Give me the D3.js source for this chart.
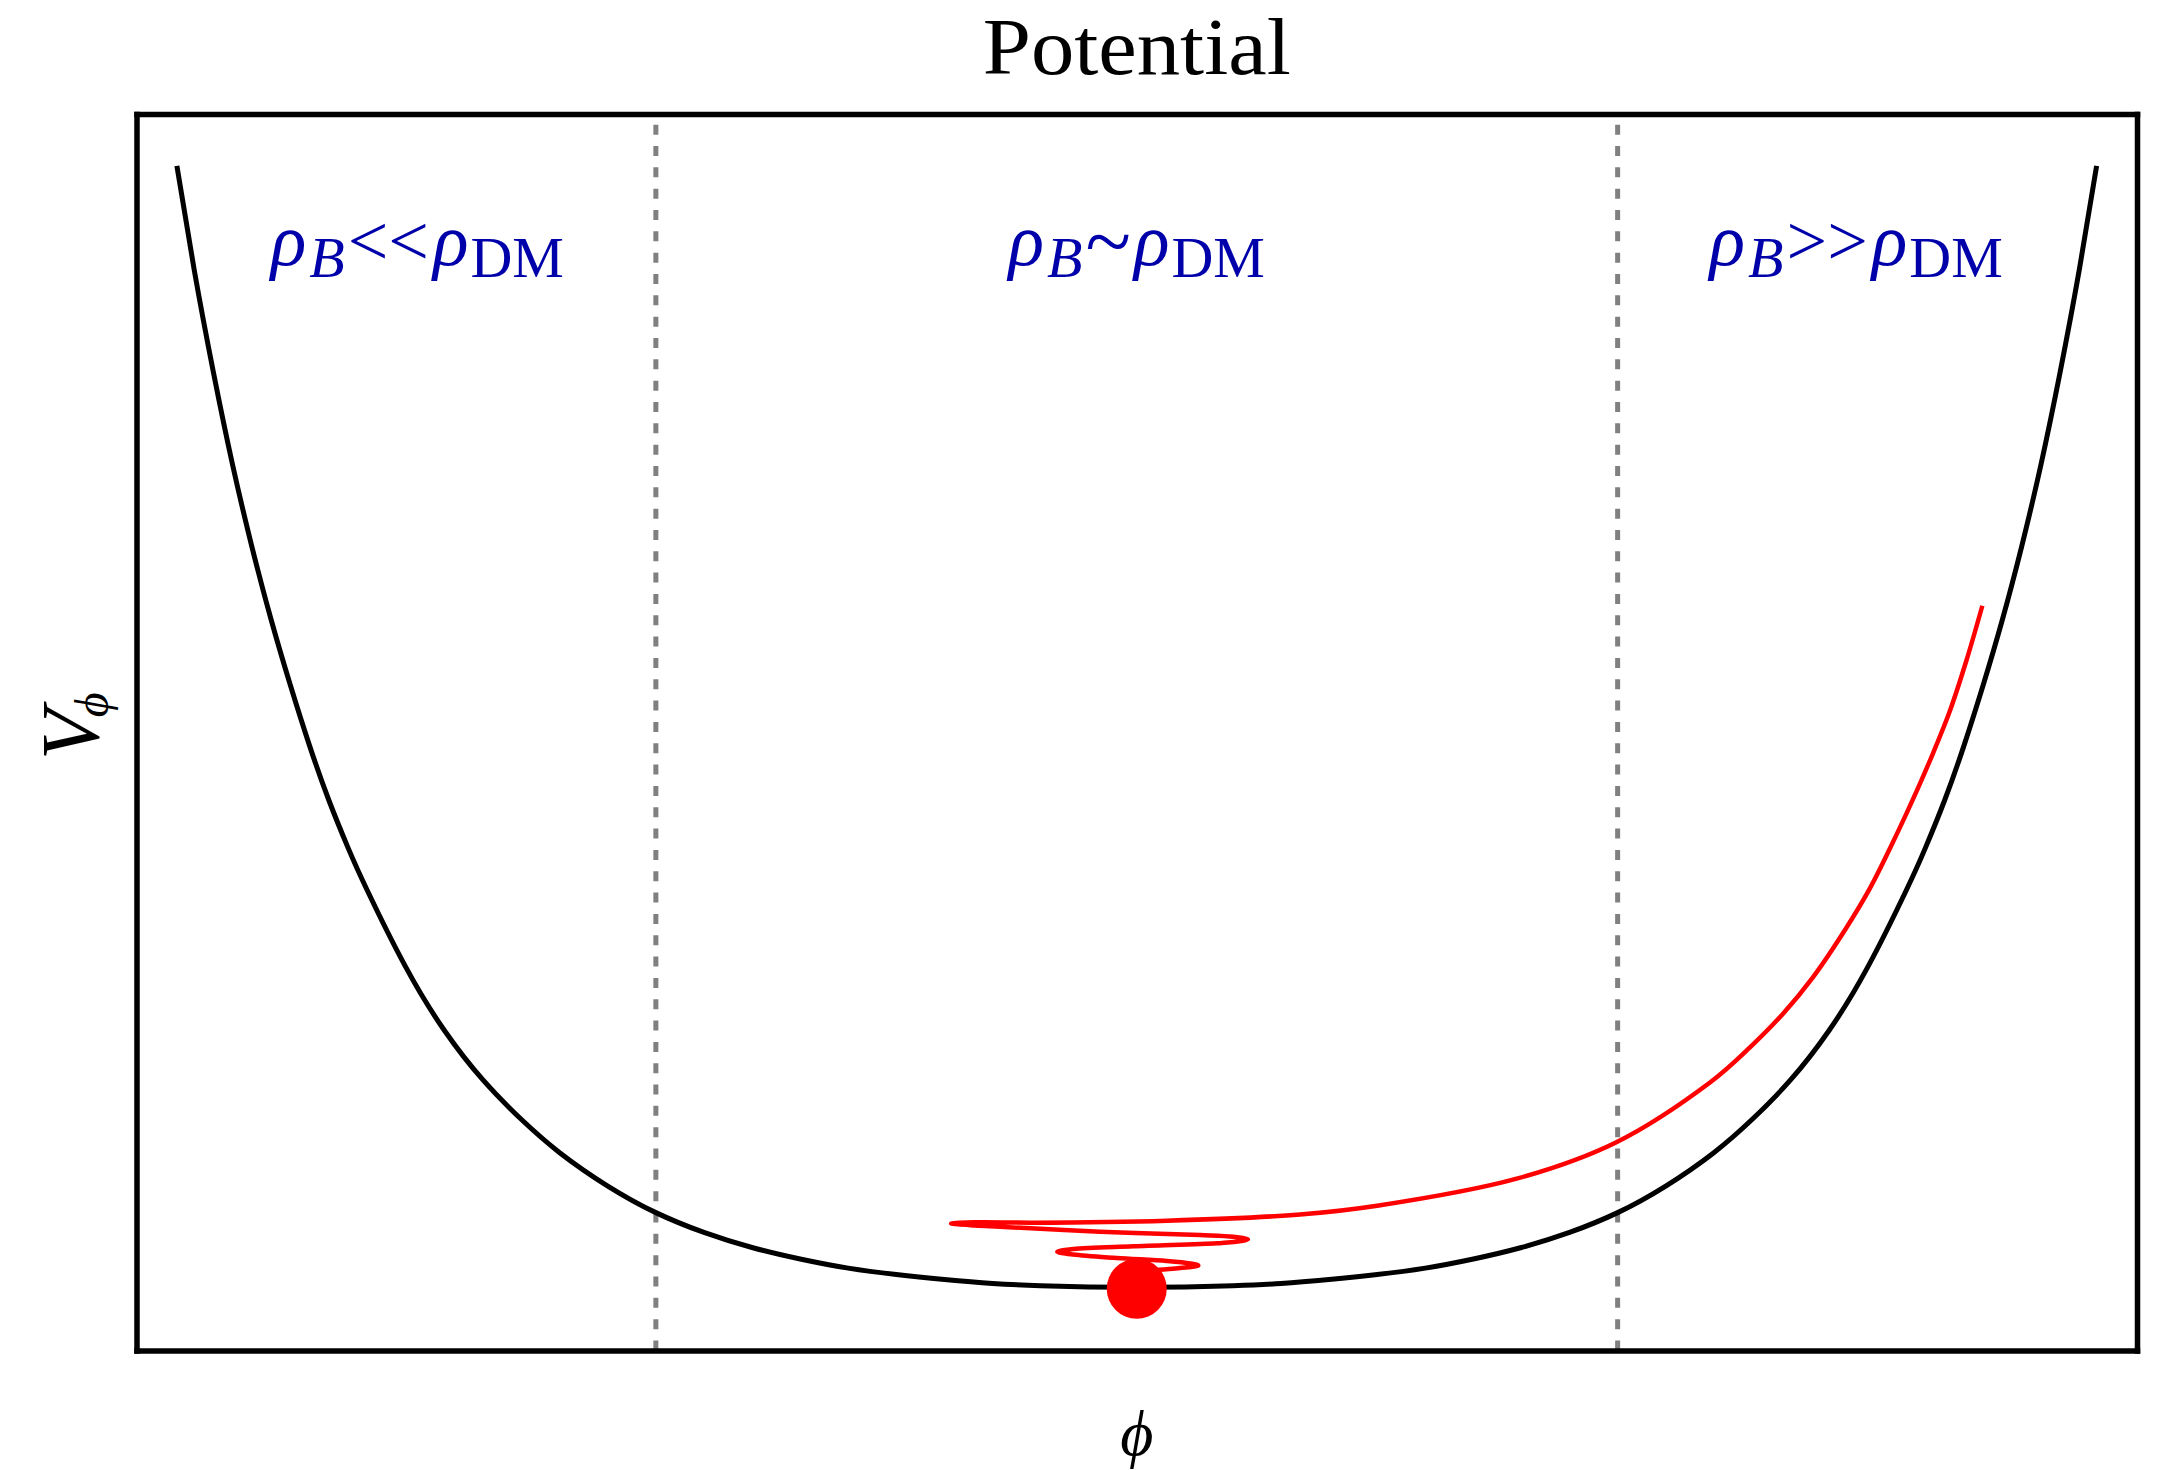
<!DOCTYPE html>
<html>
<head>
<meta charset="utf-8">
<script src="https://cdn.jsdelivr.net/npm/d3@7"></script>
<style>
  body { margin: 0; background: #ffffff; }
  svg { display: block; }
</style>
</head>
<body>
<svg id="chart" width="2162" height="1470"></svg>
<script>
// Scalar-field potential V(phi), sampled along the curve
const potentialPhi = [-4.99, -4.9, -4.8, -4.7, -4.6, -4.5, -4.4, -4.3, -4.2, -4.1, -4.0, -3.8, -3.6, -3.4, -3.2, -3.0,
                      -2.75, -2.5, -2.25, -2.0, -1.75, -1.5, -1.25, -1.0, -0.75, -0.5, -0.25, 0.0,
                      0.25, 0.5, 0.75, 1.0, 1.25, 1.5, 1.75, 2.0, 2.25, 2.5, 2.75,
                      3.0, 3.2, 3.4, 3.6, 3.8, 4.0, 4.1, 4.2, 4.3, 4.4, 4.5, 4.6, 4.7, 4.8, 4.9, 4.99];
const potentialV   = [9.58, 8.74, 7.91, 7.16, 6.50, 5.91, 5.38, 4.89, 4.45, 4.065, 3.72, 3.10, 2.59, 2.19, 1.87, 1.60,
                      1.33, 1.115, 0.955, 0.833, 0.740, 0.666, 0.614, 0.574, 0.542, 0.524, 0.514, 0.511,
                      0.514, 0.524, 0.542, 0.574, 0.614, 0.666, 0.740, 0.833, 0.955, 1.115, 1.33,
                      1.60, 1.87, 2.19, 2.59, 3.10, 3.72, 4.065, 4.45, 4.89, 5.38, 5.91, 6.50, 7.16, 7.91, 8.74, 9.58];

// Field trajectory rolling down and oscillating around the minimum (in time order)
const pathPhi = [4.396, 4.314, 4.228, 4.140, 4.055, 3.950, 3.812, 3.690, 3.517, 3.361, 3.188, 2.980, 2.491, 1.975, 1.258, 0.849,
                 0.156, -0.539, -0.840, -0.965, -0.840, -0.711, -0.191, 0.329, 0.502, 0.578, 0.502, 0.416, -0.018, -0.330,
                 -0.413, -0.330, -0.104, 0.156, 0.277, 0.320, 0.225, 0.086, 0.007];
const pathV   = [6.023, 5.584, 5.176, 4.832, 4.526, 4.172, 3.739, 3.421, 3.022, 2.726, 2.452, 2.168, 1.683, 1.390, 1.173, 1.100,
                 1.050, 1.034, 1.037, 1.027, 1.011, 1.001, 0.961, 0.934, 0.920, 0.899, 0.877, 0.867, 0.843, 0.821,
                 0.799, 0.776, 0.748, 0.724, 0.704, 0.687, 0.667, 0.647, 0.619];

// Field at rest in the minimum
const restPhi = 0.0;
const restV = 0.50;

// Region boundaries and region labels
const regionEdges = [-2.5, 2.5];
const regionLabelPhi = [-3.74, 0.0, 3.74];
const regionLabelV = 8.78;
const regionRelation = ["<<", "~", ">>"];

const titleText = "Potential";
const xLabelText = "\u03D5";
const yLabelMain = "V";
const yLabelSub = "\u03D5";

// ---------------------------------------------------------------
const svg = d3.select("#chart");
const frame = { left: 136.5, right: 2137, top: 114, bottom: 1350.5 };

const x = d3.scaleLinear().domain([-5.2, 5.2]).range([frame.left, frame.right]);
const y = d3.scaleLinear().domain([0, 10]).range([frame.bottom, frame.top]);

svg.append("rect").attr("width", 2162).attr("height", 1470).attr("fill", "#ffffff");

const serif = "'Liberation Serif', 'Times New Roman', serif";

// dashed region boundaries (drawn bottom to top)
svg.append("g").selectAll("line")
  .data(regionEdges)
  .join("line")
  .attr("x1", d => x(d)).attr("x2", d => x(d))
  .attr("y1", y(0)).attr("y2", y(10))
  .attr("stroke", "#808080")
  .attr("stroke-width", 5)
  .attr("stroke-dasharray", "10 11.33");

// potential curve
const potential = potentialPhi.map((p, i) => [p, potentialV[i]]);
const smoothLine = d3.line().x(d => x(d[0])).y(d => y(d[1])).curve(d3.curveNatural);

svg.append("path")
  .datum(potential)
  .attr("d", smoothLine)
  .attr("fill", "none")
  .attr("stroke", "#000000")
  .attr("stroke-width", 5)
  .attr("stroke-linejoin", "round");

// trajectory
const path = pathPhi.map((p, i) => [p, pathV[i]]);
const pathLine = d3.line().x(d => x(d[0])).y(d => y(d[1])).curve(d3.curveCatmullRom.alpha(0.5));
svg.append("path")
  .datum(path)
  .attr("d", pathLine)
  .attr("fill", "none")
  .attr("stroke", "#ff0000")
  .attr("stroke-width", 4.5)
  .attr("stroke-linejoin", "round")
  .attr("stroke-linecap", "butt");

// ball at the minimum
svg.append("circle")
  .attr("cx", x(restPhi))
  .attr("cy", y(restV))
  .attr("r", 30)
  .attr("fill", "#ff0000");

// frame made of four bare axes
const axes = [
  { gen: d3.axisBottom(x), t: `translate(0,${frame.bottom})` },
  { gen: d3.axisTop(x),    t: `translate(0,${frame.top})` },
  { gen: d3.axisLeft(y),   t: `translate(${frame.left},0)` },
  { gen: d3.axisRight(y),  t: `translate(${frame.right},0)` }
];
axes.forEach(a => {
  const g = svg.append("g").attr("transform", a.t)
    .call(a.gen.tickValues([]).tickSizeOuter(0));
  g.select(".domain")
    .attr("stroke", "#000000")
    .attr("stroke-width", 5.5)
    .attr("stroke-linecap", "square");
});

// region labels: rho_B <relation> rho_DM
const labels = svg.append("g").attr("fill", "#0000aa").attr("font-family", serif);
regionRelation.forEach((rel, i) => {
  const t = labels.append("text")
    .attr("x", x(regionLabelPhi[i]))
    .attr("y", y(regionLabelV))
    .attr("text-anchor", "middle");
  t.append("tspan").attr("font-style", "italic").attr("font-size", 74).text("\u03C1");
  t.append("tspan").attr("font-style", "italic").attr("font-size", 58).attr("dx", 3).attr("dy", 12).text("B");
  if (rel === "~") {
    t.append("tspan").attr("font-size", 84).attr("dx", 3).attr("dy", -7).text(rel);
    t.append("tspan").attr("font-style", "italic").attr("font-size", 74).attr("dx", 3).attr("dy", -5).text("\u03C1");
  } else {
    t.append("tspan").attr("font-size", 72).attr("dx", 3).attr("dy", -12).text(rel);
    t.append("tspan").attr("font-style", "italic").attr("font-size", 74).attr("dx", 4).text("\u03C1");
  }
  t.append("tspan").attr("font-size", 58).attr("dx", 2).attr("dy", 12).text("DM");
});

// title
svg.append("text")
  .attr("x", (frame.left + frame.right) / 2)
  .attr("y", 74)
  .attr("text-anchor", "middle")
  .attr("font-family", serif)
  .attr("font-size", 80)
  .attr("textLength", 308)
  .attr("lengthAdjust", "spacingAndGlyphs")
  .attr("fill", "#000000")
  .text(titleText);

// x label
svg.append("text")
  .attr("x", (frame.left + frame.right) / 2)
  .attr("y", 1455)
  .attr("text-anchor", "middle")
  .attr("font-family", serif)
  .attr("font-style", "italic")
  .attr("font-size", 64)
  .attr("fill", "#000000")
  .text(xLabelText);

// y label
const yl = svg.append("text")
  .attr("transform", "translate(98,760) rotate(-90)")
  .attr("text-anchor", "start")
  .attr("font-family", serif)
  .attr("font-style", "italic")
  .attr("fill", "#000000");
yl.append("tspan").attr("font-size", 83).text(yLabelMain);
yl.append("tspan").attr("font-size", 48).attr("dx", -8).attr("dy", 10).text(yLabelSub);
</script>
</body>
</html>
